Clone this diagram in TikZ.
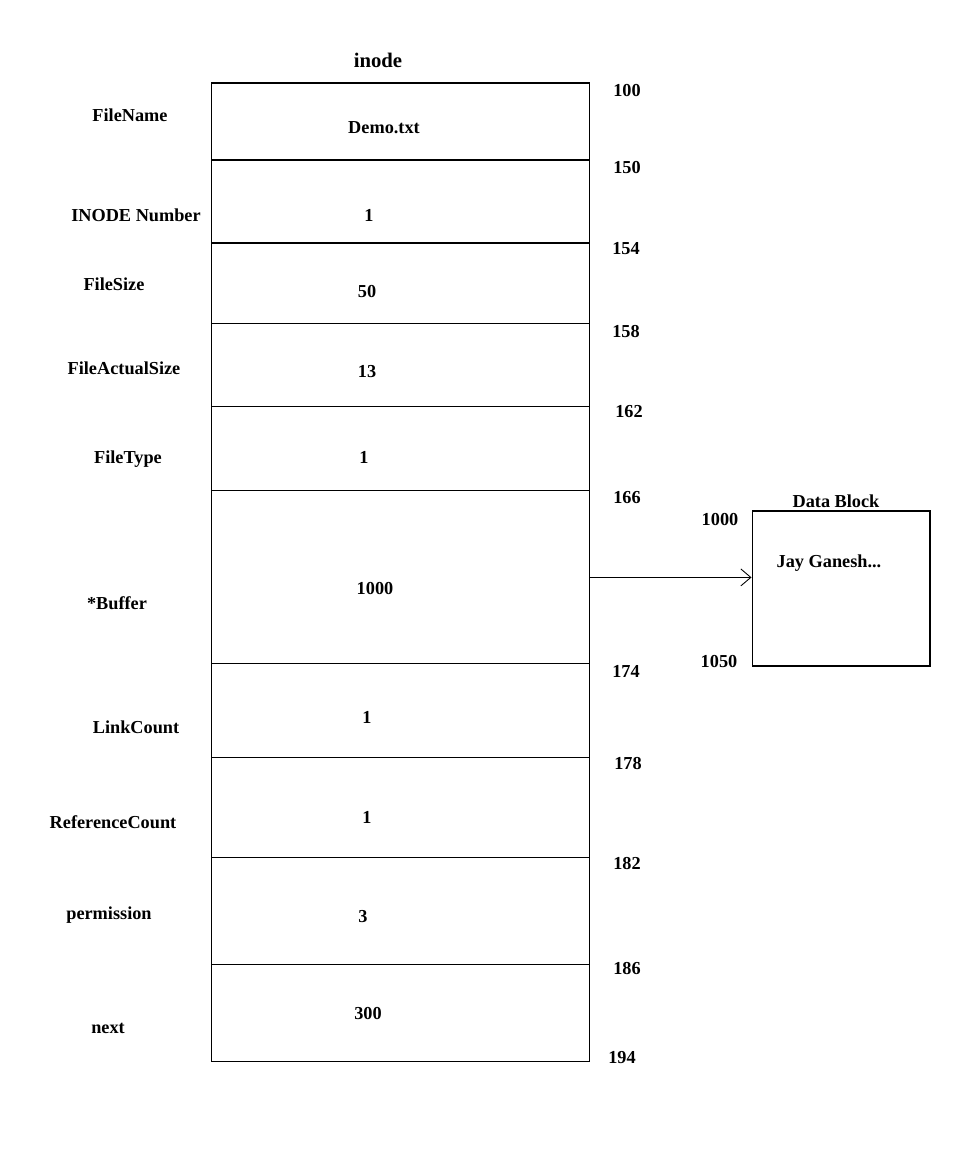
\documentclass[tikz,border=0pt]{standalone}
\usepackage{fontspec}
\setmainfont{Liberation Serif}
\usetikzlibrary{positioning, chains, arrows.meta}

\begin{document}
\begin{tikzpicture}[x=0.02cm, y=-0.02cm,
    field/.style={rectangle, draw, line width=0.6pt, minimum width=7.58cm,
      inner sep=0pt, outer sep=0pt, on chain},
    lbl/.style={font=\fontsize{10.4}{12}\selectfont\bfseries, inner sep=0pt},
    >={Straight Barb[length=2mm,width=3.4mm]},
    start chain=going below, node distance=0pt]

  \useasboundingbox (0,0) rectangle (967,1149);

  % inode fields
  \node[field, minimum height=1.54cm] (name) at (400.5,121.5) {};
  \node[field, minimum height=1.66cm] (num) {};
  \node[field, minimum height=1.62cm] (size) {};
  \node[field, minimum height=1.66cm] (actual) {};
  \node[field, minimum height=1.68cm] (type) {};
  \node[field, minimum height=3.46cm] (buf) {};
  \node[field, minimum height=1.88cm] (link) {};
  \node[field, minimum height=2.00cm] (ref) {};
  \node[field, minimum height=2.14cm] (perm) {};
  \node[field, minimum height=1.94cm] (next) {};

  \node[lbl, font=\fontsize{11.8}{14}\selectfont\bfseries] (title) at (378,60) {inode};

  % values
  \node[lbl] (vname) at (384,128) {Demo.txt};
  \node[lbl] (vnum) at (369,215) {1};
  \node[lbl] (vsize) at (367,292) {50};
  \node[lbl] (vactual) at (367,372) {13};
  \node[lbl] (vtype) at (364,457) {1};
  \node[lbl] (vbuf) at (375,589) {1000};
  \node[lbl] (vlink) at (367,717) {1};
  \node[lbl] (vref) at (367,817) {1};
  \node[lbl] (vperm) at (363,917) {3};
  \node[lbl] (vnext) at (368,1014) {300};

  % field names
  \node[lbl] (lname) at (130,115) {FileName};
  \node[lbl] (lnum) at (136,215) {INODE Number};
  \node[lbl] (lsize) at (114,284) {FileSize};
  \node[lbl] (lactual) at (124,368) {FileActualSize};
  \node[lbl] (ltype) at (128,459) {FileType};
  \node[lbl] (lbuf) at (117,603) {*Buffer};
  \node[lbl] (llink) at (136,727) {LinkCount};
  \node[lbl] (lref) at (113,822) {ReferenceCount};
  \node[lbl] (lperm) at (109,915) {permission};
  \node[lbl] (lnext) at (108,1028) {next};

  % offsets
  \node[lbl] (a100) at (627,91) {100};
  \node[lbl] (a150) at (627,168) {150};
  \node[lbl] (a154) at (626,249) {154};
  \node[lbl] (a158) at (626,332) {158};
  \node[lbl] (a162) at (629,412) {162};
  \node[lbl] (a166) at (627,498) {166};
  \node[lbl] (a174) at (626,671) {174};
  \node[lbl] (a178) at (628,764) {178};
  \node[lbl] (a182) at (627,864) {182};
  \node[lbl] (a186) at (627,969) {186};
  \node[lbl] (a194) at (622,1058) {194};

  % data block
  \node[rectangle, draw, line width=0.6pt, minimum width=3.56cm,
    minimum height=3.1cm, inner sep=0pt] (data) at (841,588.5) {};
  \node[lbl] (dtitle) at (836,501) {Data Block};
  \node[lbl] (dtext) at (829,563) {Jay Ganesh...};
  \node[lbl] (d1000) at (720,520) {1000};
  \node[lbl] (d1050) at (719,662) {1050};

  \draw[->, line width=0.5pt] (buf.east) -- (buf.east -| data.west);
\end{tikzpicture}
\end{document}
